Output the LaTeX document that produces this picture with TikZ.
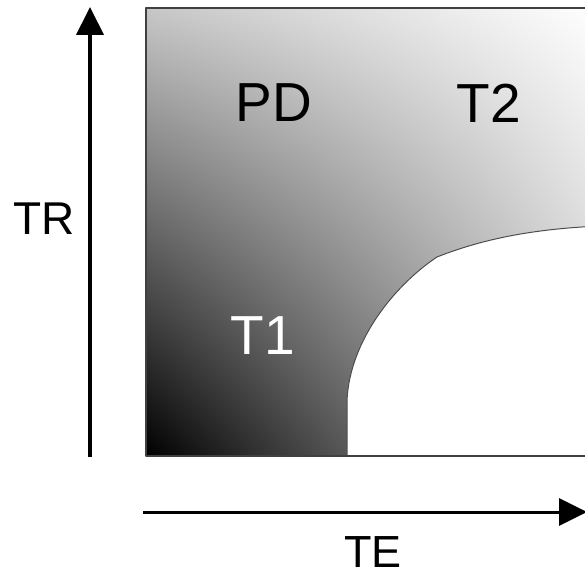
\documentclass[tikz,border=0pt]{standalone}
\usepackage{fontspec}
\setmainfont{Liberation Sans}
\usetikzlibrary{arrows.meta,shadings}
\begin{document}
\begin{tikzpicture}[x=1pt, y=-1pt, >={Triangle[length=28pt,width=27pt]}, line join=round, inner sep=1pt, font=\fontsize{55}{60}\selectfont]
	\useasboundingbox (0,0) rectangle (585,577);
	\path (146,8) coordinate (A)
	(600,8) coordinate (B)
	(600,456) coordinate (C)
	(146,456) coordinate (D)
	(347,456) coordinate (E)
	(437,257) coordinate (K);
	\begin{scope}
		\clip (0,0) rectangle (585,577);
		\shade[upper left=black!22, upper right=white, lower left=black, lower right=black!24] (A) rectangle (C);
		\fill[white] (E)--(347,400) .. controls (350,340) and (395,285) .. (K)
		.. controls (480,240) and (530,229) .. (600,226) -- (C) -- cycle;
		\draw[black!70, line width=1pt] (E)--(347,400) .. controls (350,340) and (395,285) .. (K)
		.. controls (480,240) and (530,229) .. (600,226);
		\draw[black!75, line width=1.5pt] (B)--(A)--(D)--(C);
	\end{scope}
	% axes
	\path (90,457) coordinate (y0) (90,7) coordinate (y1)
	(143,512) coordinate (x0) (587,512) coordinate (x1);
	\draw[->, line width=4pt] (y0)--(y1);
	\draw[->, line width=3pt] (x0)--(x1);
	\foreach \n/\x/\y in {PD/274/103, T2/489/103}{
		\node (\n) at (\x,\y) {\n};
	}
	\node[white] (T1) at (263,336) {T1};
	\node[font=\fontsize{46}{50}\selectfont] (TR) at (44,219) {TR};
	\node[font=\fontsize{45}{50}\selectfont] (TE) at (373,552) {TE};
\end{tikzpicture}
\end{document}
